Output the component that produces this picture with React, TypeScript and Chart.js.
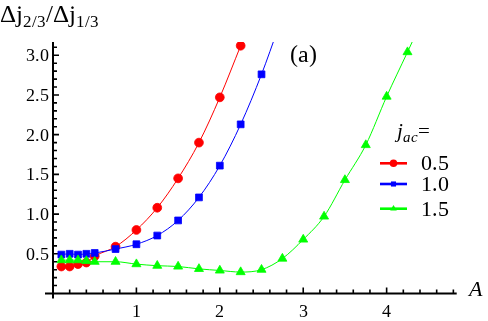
import React, { useEffect, useRef, useState } from 'react';
import { Chart, registerables } from 'chart.js';

Chart.register(...registerables);

// ---- data ----
const redA = [0.1, 0.2, 0.3, 0.4, 0.5, 0.75, 1.0, 1.25, 1.5, 1.75, 2.0, 2.25];
const redY = [0.34, 0.34, 0.37, 0.39, 0.47, 0.59, 0.8, 1.08, 1.45, 1.9, 2.47, 3.12];
const redTailA = [2.35];
const redTailY = [3.38];

const blueA = [0.1, 0.2, 0.3, 0.4, 0.5, 0.75, 1.0, 1.25, 1.5, 1.75, 2.0, 2.25, 2.5];
const blueY = [0.49, 0.5, 0.49, 0.5, 0.51, 0.56, 0.62, 0.73, 0.92, 1.21, 1.61, 2.13, 2.76];
const blueTailA = [2.7];
const blueTailY = [3.34];

const greenA = [0.1, 0.2, 0.3, 0.4, 0.5, 0.75, 1.0, 1.25, 1.5, 1.75, 2.0, 2.25, 2.5, 2.75, 3.0, 3.25, 3.5, 3.75, 4.0, 4.25];
const greenY = [0.42, 0.42, 0.42, 0.41, 0.4, 0.4, 0.37, 0.35, 0.34, 0.31, 0.29, 0.27, 0.3, 0.44, 0.68, 0.97, 1.43, 1.87, 2.48, 3.04];
const greenTailA = [4.4];
const greenTailY = [3.38];

const xTickLabels = [1, 2, 3, 4];
const yTickLabels = [0.5, 1.0, 1.5, 2.0, 2.5, 3.0];
const legendLabels = ['0.5', '1.0', '1.5'];
const seriesColors = ['#ff0000', '#0000ff', '#00ff00'];
const seriesStyles = ['circle', 'rect', 'triangle'];
const legendRowsY = [163.3, 184, 208.7];

const FACE_CSS = `
@font-face { font-family: 'ChartSerif'; font-style: normal; font-weight: 400;
  src: local('Liberation Serif'), local('LiberationSerif'), local('LiberationSerif-Regular'), local('Liberation Serif Regular'), local('Times New Roman'), local('Tinos'); }
@font-face { font-family: 'ChartSerif'; font-style: italic; font-weight: 400;
  src: local('Liberation Serif Italic'), local('LiberationSerif-Italic'), local('Times New Roman Italic'), local('Tinos Italic'); }
`;

const SERIF = "ChartSerif, 'Liberation Serif', 'Times New Roman', Times, serif";

function pts(a: number[], y: number[], ta: number[], ty: number[]) {
  const out = a.map((v, i) => ({ x: v, y: y[i] }));
  ta.forEach((v, i) => out.push({ x: v, y: ty[i] }));
  return out;
}

function radii(n: number, tail: number, r: number) {
  return [...Array(n).fill(r), ...Array(tail).fill(0)];
}

function drawMarker(ctx: CanvasRenderingContext2D, style: string, x: number, y: number, r: number) {
  ctx.beginPath();
  if (style === 'circle') {
    ctx.arc(x, y, r, 0, Math.PI * 2);
  } else if (style === 'rect') {
    ctx.rect(x - r * 0.75, y - r * 0.75, r * 1.5, r * 1.5);
  } else {
    ctx.moveTo(x, y - r);
    ctx.lineTo(x + r * 0.866, y + r * 0.5);
    ctx.lineTo(x - r * 0.866, y + r * 0.5);
    ctx.closePath();
  }
  ctx.fill();
}

const decorPlugin = {
  id: 'decor',
  beforeDatasetsDraw(chart: any) {
    const { ctx, chartArea, scales } = chart;
    const xs = scales.x;
    const ys = scales.y;
    const x0 = xs.getPixelForValue(0);
    const y0 = ys.getPixelForValue(0);
    ctx.save();
    ctx.strokeStyle = '#000';
    ctx.lineWidth = 2;
    ctx.beginPath();
    ctx.moveTo(x0 - 8, y0);
    ctx.lineTo(chartArea.right, y0);
    ctx.moveTo(x0, y0 + 5);
    ctx.lineTo(x0, chartArea.top);
    ctx.stroke();
    ctx.lineWidth = 1.6;
    ctx.beginPath();
    for (let k = 1; k * 0.2 <= xs.max + 1e-9; k++) {
      const px = xs.getPixelForValue(k * 0.2);
      const major = k % 5 === 0;
      ctx.moveTo(px, y0);
      ctx.lineTo(px, y0 - (major ? 6 : 4));
    }
    for (let k = 1; k * 0.1 <= ys.max + 1e-9; k++) {
      const py = ys.getPixelForValue(k * 0.1);
      const major = k % 5 === 0;
      ctx.moveTo(x0, py);
      ctx.lineTo(x0 + (major ? 6 : 4), py);
    }
    ctx.stroke();
    ctx.restore();
  },
  afterDraw(chart: any) {
    const { ctx } = chart;
    ctx.save();
    legendLabels.forEach((_lab, i) => {
      const ly = legendRowsY[i];
      ctx.strokeStyle = seriesColors[i];
      ctx.fillStyle = seriesColors[i];
      ctx.lineWidth = 2.6;
      ctx.beginPath();
      ctx.moveTo(380, ly);
      ctx.lineTo(407, ly);
      ctx.stroke();
      drawMarker(ctx, seriesStyles[i], 393.5, ly, i === 1 ? 3.4 : 3.8);
    });
    ctx.restore();
  },
};

type TxtProps = {
  x: number;
  base: number;
  size: number;
  italic?: boolean;
  align?: 'left' | 'right' | 'center';
  children: React.ReactNode;
};

function Txt({ x, base, size, italic, align = 'left', children }: TxtProps) {
  const shift = align === 'right' ? 'translateX(-100%)' : align === 'center' ? 'translateX(-50%)' : 'none';
  return (
    <div
      style={{
        position: 'absolute',
        left: x,
        top: base - 0.8375 * size,
        fontSize: size,
        lineHeight: `${size}px`,
        fontFamily: SERIF,
        fontStyle: italic ? 'italic' : 'normal',
        whiteSpace: 'nowrap',
        color: '#000',
        transform: shift,
      }}
    >
      {children}
    </div>
  );
}

function Sub({ size, dy, italic, children }: { size: number; dy: number; italic?: boolean; children: React.ReactNode }) {
  return (
    <span
      style={{
        fontSize: size,
        position: 'relative',
        top: dy,
        fontStyle: italic ? 'italic' : 'normal',
        fontFamily: SERIF,
      }}
    >
      {children}
    </span>
  );
}

export default function App() {
  const ref = useRef<HTMLCanvasElement | null>(null);
  const [pos, setPos] = useState<{ xs: number[]; ys: number[]; axisX: number; axisY: number } | null>(null);

  useEffect(() => {
    if (!ref.current) return;
    const lineCommon = {
      showLine: true,
      borderWidth: 1,
      cubicInterpolationMode: 'monotone' as const,
      pointBorderWidth: 0.8,
      clip: { left: 10, right: 10, top: 0, bottom: 10 },
    };
    const chart = new Chart(ref.current, {
      type: 'scatter',
      data: {
        datasets: [
          {
            ...lineCommon,
            label: legendLabels[0],
            data: pts(redA, redY, redTailA, redTailY),
            borderColor: seriesColors[0],
            backgroundColor: seriesColors[0],
            pointStyle: 'circle',
            pointRadius: radii(redA.length, redTailA.length, 4.4),
            order: 3,
          },
          {
            ...lineCommon,
            label: legendLabels[1],
            data: pts(blueA, blueY, blueTailA, blueTailY),
            borderColor: seriesColors[1],
            backgroundColor: seriesColors[1],
            pointStyle: 'rect',
            pointRadius: radii(blueA.length, blueTailA.length, 4.8),
            order: 2,
          },
          {
            ...lineCommon,
            label: legendLabels[2],
            data: pts(greenA, greenY, greenTailA, greenTailY),
            borderColor: seriesColors[2],
            backgroundColor: seriesColors[2],
            pointStyle: 'triangle',
            pointRadius: radii(greenA.length, greenTailA.length, 5.2),
            order: 1,
          },
        ],
      },
      options: {
        responsive: false,
        animation: false,
        events: [],
        layout: { padding: { left: 0, top: 42, right: 31.3, bottom: 0 } },
        plugins: {
          legend: { display: false },
          tooltip: { enabled: false },
          title: { display: false },
        },
        scales: {
          x: {
            type: 'linear',
            min: 0,
            max: 4.84,
            grid: { display: false, drawTicks: false },
            border: { display: false },
            ticks: { display: false },
            afterBuildTicks: (s: any) => {
              s.ticks = xTickLabels.map((v) => ({ value: v }));
            },
            afterFit: (s: any) => {
              s.height = 27.5;
            },
          },
          y: {
            type: 'linear',
            min: 0,
            max: 3.167,
            grid: { display: false, drawTicks: false },
            border: { display: false },
            ticks: { display: false },
            afterBuildTicks: (s: any) => {
              s.ticks = yTickLabels.map((v) => ({ value: v }));
            },
            afterFit: (s: any) => {
              s.width = 53;
            },
          },
        },
      },
      plugins: [decorPlugin],
    } as any);
    const sx = (chart as any).scales.x;
    const sy = (chart as any).scales.y;
    setPos({
      xs: xTickLabels.map((v) => sx.getPixelForValue(v)),
      ys: yTickLabels.map((v) => sy.getPixelForValue(v)),
      axisX: sx.getPixelForValue(0),
      axisY: sy.getPixelForValue(0),
    });
    return () => chart.destroy();
  }, []);

  return (
    <div
      style={{
        position: 'fixed',
        left: 0,
        top: 0,
        width: 488,
        height: 321,
        background: '#fff',
        overflow: 'hidden',
        fontFamily: SERIF,
      }}
    >
      <style>{FACE_CSS}</style>
      <canvas
        ref={ref}
        width={488}
        height={321}
        style={{ display: 'block', position: 'absolute', left: 0, top: 0 }}
      />
      {/* y-axis title */}
      <Txt x={0} base={21.5} size={25}>
        Δj<Sub size={17} dy={5.5}>2/3</Sub>/Δj<Sub size={17} dy={5.5}>1/3</Sub>
      </Txt>
      {/* panel label */}
      <Txt x={290} base={62} size={24}>
        (a)
      </Txt>
      {/* x-axis title */}
      <Txt x={469} base={296.5} size={22} italic>
        A
      </Txt>
      {/* legend title */}
      <Txt x={397} base={139} size={21}>
        <i>j</i>
        <Sub size={15} dy={4} italic>
          ac
        </Sub>
        =
      </Txt>
      {legendLabels.map((lab, i) => (
        <Txt key={lab} x={421} base={legendRowsY[i] + 7.5} size={22}>
          {lab}
        </Txt>
      ))}
      {pos &&
        pos.ys.map((py, i) => (
          <Txt key={'y' + i} x={pos.axisX - 4} base={py + 6} size={18} align="right">
            {yTickLabels[i].toFixed(1)}
          </Txt>
        ))}
      {pos &&
        pos.xs.map((px, i) => (
          <Txt key={'x' + i} x={px} base={pos.axisY + 23.5} size={18} align="center">
            {String(xTickLabels[i])}
          </Txt>
        ))}
    </div>
  );
}
